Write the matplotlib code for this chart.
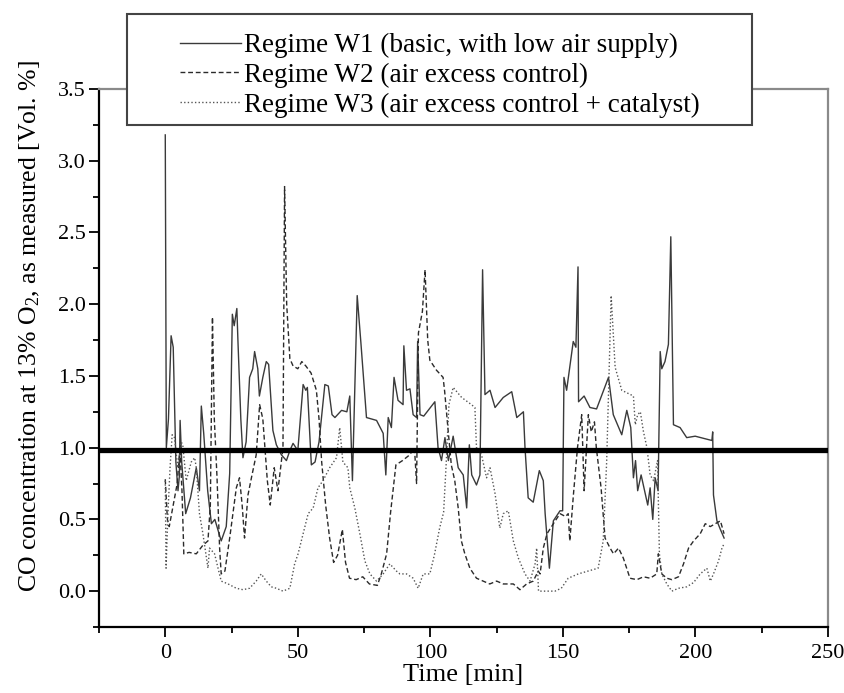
import matplotlib
matplotlib.use("Agg")
import matplotlib.pyplot as plt
from matplotlib.ticker import MultipleLocator, FormatStrFormatter
from matplotlib.patches import Rectangle

plt.rcParams['font.family'] = ['Liberation Serif', 'DejaVu Serif']
plt.rcParams['mathtext.default'] = 'regular'

# ---------------- data ----------------
w1_t = [0, 0.4, 1.2, 2.2, 3.0, 4.0, 4.8, 5.3, 5.6, 6.2, 7.7, 9.5, 11.7, 12.9, 13.6, 14.5, 16, 17.4,
        18.7, 21.1, 23, 24.3, 25.3, 26.0, 27.0, 27.4, 28.5, 29.3, 30.5, 31.8, 33.0, 33.7, 34.9, 35.5,
        36.8, 38.1, 39.0, 40.6, 41.9, 43.8, 45.7, 47, 48.2, 50, 52.0, 53, 53.6, 55.1, 56.5, 58.0, 60.2,
        61.5, 62.9, 64, 66.5, 68.5, 69.6, 70.6, 72.4, 73.8, 75.9, 79.7, 82.2, 83.2, 84.1, 85.3, 86.3,
        87.8, 89.7, 90.0, 91.0, 92.3, 93.5, 94.8, 95.2, 96.1, 97.5, 101.7, 102.9, 104.2, 105.5, 106.8,
        108.6, 110.5, 112.4, 113.7, 114.7, 115.6, 117.4, 118.7, 119.7, 120.6, 122.5, 124.4, 127.5,
        130.7, 132.6, 135.1, 135.7, 136.9, 138.8, 141.1, 142.6, 143.3, 144.9, 146.4, 148.9, 149.9,
        150.4, 151.4, 153.9, 154.9, 155.7, 155.9, 158, 160.2, 162.7, 167.2, 169.0, 172.2, 174.1, 175.6,
        176.6, 177.4, 178.2, 179.5, 182.0, 182.9, 183.9, 184.8, 185.9, 186.7, 187.3, 188.5, 189.8,
        190.7, 191.7, 194.2, 196.7, 199.9, 206.2, 206.5, 206.8, 208.1, 209.4, 210.8]
w1_v = [3.18, 1.0, 1.2, 1.78, 1.7, 0.9, 0.70, 0.8, 1.19, 0.9, 0.54, 0.65, 0.86, 0.70, 1.29, 1.1, 0.7, 0.47,
        0.50, 0.35, 0.45, 0.82, 1.93, 1.85, 1.97, 1.75, 1.2, 0.93, 1.04, 1.49, 1.55, 1.67, 1.55, 1.36,
        1.49, 1.60, 1.58, 1.12, 1.02, 0.95, 0.91, 0.98, 1.03, 0.98, 1.44, 1.40, 1.42, 0.88, 0.90, 1.04, 1.44,
        1.43, 1.23, 1.21, 1.26, 1.25, 1.36, 0.77, 2.06, 1.73, 1.21, 1.19, 1.10, 0.81, 1.21, 1.14, 1.49,
        1.33, 1.30, 1.71, 1.40, 1.41, 1.23, 1.21, 1.74, 1.23, 1.22, 1.32, 1.0, 0.91, 1.07, 0.91,
        1.08, 0.86, 0.81, 0.58, 1.02, 0.81, 0.74, 0.81, 2.24, 1.37, 1.40, 1.28, 1.35,
        1.39, 1.21, 1.25, 1.0, 0.65, 0.62, 0.84, 0.77, 0.54, 0.16, 0.49, 0.56, 0.56,
        1.49, 1.40, 1.74, 1.70, 2.26, 1.32, 1.36, 1.28, 1.27, 1.49, 1.23, 1.09, 1.26, 1.14,
        0.79, 0.91, 0.70, 0.81, 0.60, 0.72, 0.50, 0.79, 0.70, 1.67, 1.55, 1.6, 1.72,
        2.47, 1.16, 1.14, 1.07, 1.08, 1.05, 1.11, 0.67, 0.49, 0.43, 0.37]

w2_t = [0, 0.8, 1.5, 3, 4.5, 5.5, 6.3, 7.0, 9, 11.7, 14.2, 16.1, 17.0, 17.8, 18.5, 19.5, 20.5, 21.1,
        22.5, 24.3, 26.8, 28, 29.0, 29.9, 31.2, 32.5, 34.3, 35.6, 36.8, 38.5, 39.6, 41.1, 42.5, 44.4,
        45.0, 45.8, 47, 48.2, 50, 51.5, 53, 55, 57, 58, 59, 60.5, 62, 63.5, 65, 66.8, 68, 69.5, 72,
        74.5, 77, 80, 81.5, 83.5, 85, 87, 89.5, 92.2, 94, 94.8, 95.5, 97, 98, 99, 99.8, 102.3, 104.8,
        105.4, 106.7, 107.9, 109.2, 110.5, 111.7, 113.0, 114.9, 117.4, 119.9, 122.4, 125.0, 127.5,
        131.3, 133.8, 136.3, 138.8, 140.7, 141.4, 142.6, 144.0, 146.4, 148.9, 151.0, 152.0, 152.6,
        154.0, 155.5, 157.1, 158.0, 159.6, 160.7, 161.9, 162.6, 164.4, 165.9, 167.8, 169.1, 171,
        172.8, 175.3, 177.9, 180.4, 182.9, 185.4, 186.0, 187.3, 189.2, 191.1, 193.6, 195.5, 197.4,
        199.3, 201.8, 203.7, 205.6, 207.5, 209.4, 210.8]
w2_v = [0.78, 0.5, 0.45, 0.6, 0.75, 1.0, 0.7, 0.26, 0.27, 0.26, 0.32, 0.35, 0.6, 1.91, 1.2, 0.8, 0.3, 0.12,
        0.14, 0.37, 0.72, 0.79, 0.6, 0.37, 0.67, 0.79, 0.95, 1.30, 1.2, 0.77, 0.6, 0.86, 0.70, 1.0,
        2.82, 2.0, 1.62, 1.57, 1.55, 1.60, 1.57, 1.52, 1.40, 1.2, 0.9, 0.6, 0.37, 0.2, 0.25, 0.43, 0.2, 0.09, 0.08,
        0.1, 0.05, 0.04, 0.12, 0.26, 0.55, 0.88, 0.91, 0.95, 1.0, 0.75, 1.8, 1.95, 2.24, 1.75, 1.61, 1.54, 1.49,
        1.39, 1.12, 0.88, 0.77, 0.58, 0.35, 0.26, 0.16, 0.09, 0.07, 0.05, 0.07, 0.05,
        0.05, 0.01, 0.05, 0.07, 0.14, 0.12, 0.30, 0.40, 0.47, 0.54, 0.52, 0.54, 0.35,
        0.68, 1.0, 1.23, 0.70, 1.23, 1.11, 1.18, 1.0, 0.72, 0.37, 0.30, 0.26, 0.30,
        0.23, 0.09, 0.08, 0.10, 0.09, 0.12, 0.26, 0.12, 0.09, 0.08, 0.10, 0.19, 0.30,
        0.35, 0.40, 0.47, 0.45, 0.47, 0.49, 0.40]

w3_t = [0, 0.3, 1, 1.8, 2.6, 3.5, 4.7, 6.0, 6.6, 7.9, 9.8, 11.1, 11.7, 12.9, 14.2, 16.1, 16.7, 18.6,
        19.9, 21.1, 23.7, 26.8, 29.3, 31.8, 34.3, 36.2, 38.1, 40.0, 41.9, 44.4, 47.0, 48.8, 50.1, 52.0,
        53.9, 55.8, 57.6, 59.5, 62.0, 64.6, 65.8, 67.0, 68.9, 69.6, 71.5, 73.4, 75.3, 77.2, 79.7, 82.2,
        84.7, 87.2, 88.5, 91.0, 93.5, 95.4, 97.3, 99.8, 101.5, 103.5, 105.0, 106.0, 107.0, 108.6, 111.8,
        115.5, 116.8, 117.4, 119.3, 121.2, 122.5, 124.4, 126.2, 127.5, 129.4, 131.3, 133.2, 135.7,
        137.6, 139.5, 140.1, 140.8, 143.0, 147.0, 149.4, 152.0, 155.8, 159.5, 163.3, 165.2, 166.5,
        168.2, 169.7, 172.2, 176.6, 177.3, 178.2, 179.2, 180.4, 181.7, 182.9, 184.2, 185.7, 186.4,
        187.3, 189.2, 191.1, 193.6, 196.7, 199.3, 201.8, 204.3, 205.6, 206.8, 208.7, 210.0, 210.8]
w3_v = [0.77, 0.16, 0.54, 0.86, 1.09, 1.07, 0.86, 1.04, 1.02, 0.77, 0.90, 0.93, 0.86, 0.54, 0.40, 0.16, 0.30, 0.26,
        0.16, 0.07, 0.05, 0.02, 0.01, 0.02, 0.07, 0.12, 0.07, 0.03, 0.02, 0.0, 0.02, 0.19, 0.26, 0.40,
        0.54, 0.58, 0.72, 0.77, 0.86, 0.93, 1.14, 0.90, 0.86, 0.72, 0.58, 0.40, 0.21, 0.12, 0.07, 0.12,
        0.19, 0.14, 0.12, 0.12, 0.09, 0.02, 0.12, 0.12, 0.25, 0.44, 0.55, 0.9, 1.3, 1.42, 1.35,
        1.30, 1.28, 1.0, 0.95, 0.79, 0.86, 0.68, 0.44, 0.54, 0.56, 0.35, 0.23, 0.12,
        0.07, 0.19, 0.30, 0.0, 0.0, 0.0, 0.02, 0.09, 0.12, 0.14, 0.16, 0.35, 0.9,
        2.06, 1.56, 1.40, 1.36, 1.16, 1.23, 1.25, 1.11, 1.0, 0.81, 0.77, 0.91, 0.26,
        0.12, 0.05, 0.0, 0.02, 0.03, 0.06, 0.12, 0.16, 0.07, 0.12, 0.21, 0.30, 0.33]

labels = ["Regime W1 (basic, with low air supply)",
          "Regime W2 (air excess control)",
          "Regime W3 (air excess control + catalyst)"]
limit_value = 0.985

# ---------------- figure ----------------
fig = plt.figure(figsize=(8.45, 6.93), dpi=100)
ax = fig.add_axes([99/845, 1-627/693, (828-99)/845, (627-89)/693])

l1, = ax.plot(w1_t, w1_v, color='#3a3a3a', lw=1.0, ls='-')
l2, = ax.plot(w2_t, w2_v, color='#2a2a2a', lw=1.0, ls=(0, (3.5, 2)))
l3, = ax.plot(w3_t, w3_v, color='#555555', lw=1.0, ls=(0, (1, 1.6)))
ax.axhline(limit_value, color='black', lw=3.8, zorder=4)

ax.set_xlim(-25, 250)
ax.set_ylim(-0.25, 3.5)
ax.xaxis.set_major_locator(MultipleLocator(50))
ax.xaxis.set_minor_locator(MultipleLocator(25))
ax.yaxis.set_major_locator(MultipleLocator(0.5))
ax.yaxis.set_minor_locator(MultipleLocator(0.25))
ax.yaxis.set_major_formatter(FormatStrFormatter('%.1f'))
ax.tick_params(which='major', direction='out', length=7, width=1.3, labelsize=16)
ax.tick_params(axis='y', which='major', pad=2.5)
ax.tick_params(axis='x', which='major', pad=5)
ax.tick_params(which='minor', direction='out', length=4, width=1.3)
ax.tick_params(top=False, right=False)

for s in ['left', 'bottom']:
    ax.spines[s].set_linewidth(1.6)
    ax.spines[s].set_color('black')
for s in ['top', 'right']:
    ax.spines[s].set_linewidth(1.6)
    ax.spines[s].set_color('#8a8a8a')

ax.set_xlabel('Time [min]', fontsize=19, labelpad=1)
ax.set_ylabel('CO concentration at 13% O$_2$, as measured [Vol. %]', fontsize=18.5)
ax.yaxis.set_label_coords(-0.078, 0.56)

# legend box
rect = Rectangle((127/845, 1-125/693), (752-127)/845, (125-14)/693, transform=fig.transFigure,
                 facecolor='white', edgecolor='#444444', lw=1.5, zorder=3)
fig.patches.append(rect)
leg = fig.legend([l1, l2, l3], labels, loc='upper left',
                 bbox_to_anchor=(180/845, 1-33/693), bbox_transform=fig.transFigure,
                 frameon=False, fontsize=19.5, handlelength=2.25, handletextpad=0.1,
                 labelspacing=0.17, borderpad=0.0, borderaxespad=0.0)
leg.set_zorder(6)

fig.savefig('out.png', dpi=100)
